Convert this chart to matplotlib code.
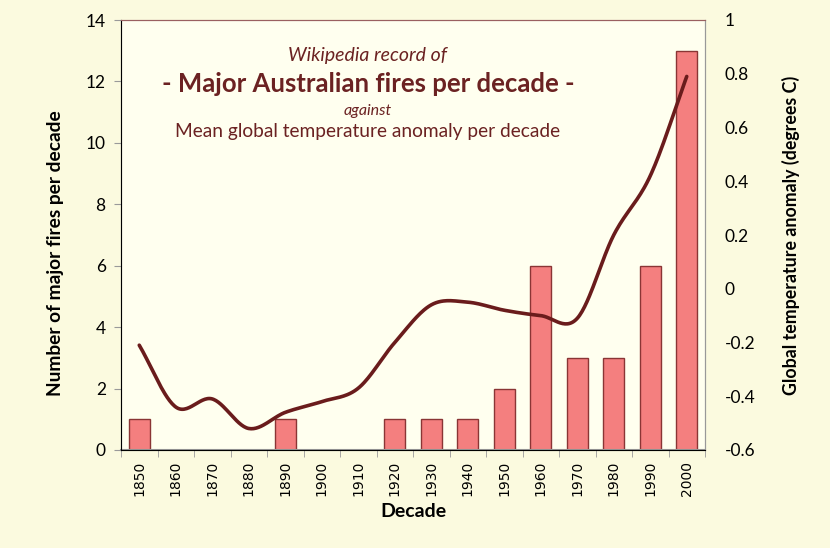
import numpy as np
import matplotlib
matplotlib.use("Agg")
import matplotlib.pyplot as plt

# ── Data ─────────────────────────────────────────────────────────────────────
decades = ["1850", "1860", "1870", "1880", "1890", "1900", "1910", "1920",
           "1930", "1940", "1950", "1960", "1970", "1980", "1990", "2000"]
fires = [1, 0, 0, 0, 1, 0, 0, 1, 1, 1, 2, 6, 3, 3, 6, 13]
temp_anomaly = [-0.21, -0.44, -0.41, -0.52, -0.46, -0.42, -0.37, -0.20,
                -0.06, -0.05, -0.08, -0.10, -0.11, 0.20, 0.42, 0.79]
left_ticks = [0, 2, 4, 6, 8, 10, 12, 14]
right_ticks = [-0.6, -0.4, -0.2, 0, 0.2, 0.4, 0.6, 0.8, 1]
right_labels = ["-0.6", "-0.4", "-0.2", "0", "0.2", "0.4", "0.6", "0.8", "1"]

OUTER_BG = "#FBFADF"
INNER_BG = "#FFFFEF"
BAR_FILL = "#F47F7F"
BAR_EDGE = "#8A3535"
LINE_COL = "#6A1C1C"
TEXT_COL = "#6B2222"

plt.rcParams["font.family"] = ["Lato", "DejaVu Sans"]


def smooth(xs, ys, n=30):
    """Catmull-Rom style curve through the points (like Excel's smoothed line)."""
    xs = np.asarray(xs, float)
    ys = np.asarray(ys, float)
    px = np.concatenate([[2 * xs[0] - xs[1]], xs, [2 * xs[-1] - xs[-2]]])
    py = np.concatenate([[2 * ys[0] - ys[1]], ys, [2 * ys[-1] - ys[-2]]])
    out_x, out_y = [], []
    for i in range(1, len(px) - 2):
        t = np.linspace(0, 1, n, endpoint=False)
        for p, o in ((px, out_x), (py, out_y)):
            p0, p1, p2, p3 = p[i - 1], p[i], p[i + 1], p[i + 2]
            o.extend(0.5 * (2 * p1 + (-p0 + p2) * t
                            + (2 * p0 - 5 * p1 + 4 * p2 - p3) * t ** 2
                            + (-p0 + 3 * p1 - 3 * p2 + p3) * t ** 3))
    out_x.append(xs[-1])
    out_y.append(ys[-1])
    return np.array(out_x), np.array(out_y)


# ── Figure ───────────────────────────────────────────────────────────────────
fig = plt.figure(figsize=(8.3, 5.48), dpi=100)
fig.patch.set_facecolor(OUTER_BG)
ax = fig.add_axes([121 / 830, 1 - 450 / 548, 584 / 830, 430 / 548])
ax.set_facecolor(INNER_BG)

x = np.arange(len(decades))
ax.bar(x, fires, width=0.58, color=BAR_FILL, edgecolor=BAR_EDGE, linewidth=1.0, zorder=2)
ax.set_xlim(-0.5, len(decades) - 0.5)
ax.set_ylim(0, 14)
ax.set_yticks(left_ticks)
ax.set_yticklabels([str(v) for v in left_ticks], fontsize=12.5)
ax.set_xticks(x)
ax.set_xticklabels(decades, rotation=90, fontsize=10, family="DejaVu Sans")
ax.tick_params(axis="x", length=0, pad=8)
ax.set_xticks(np.arange(-0.5, len(decades)), minor=True)
ax.tick_params(axis="x", which="minor", length=5, color="#999999", direction="out")
ax.tick_params(axis="y", length=5, color="#999999", pad=6)

for side in ("left", "bottom", "right"):
    ax.spines[side].set_color("#999999")
ax.spines["top"].set_color("#9A6060")
ax.spines["bottom"].set_linewidth(1.5)

ax.set_ylabel("Number of major fires per decade", fontsize=13.8, fontweight="bold")
ax.yaxis.set_label_coords(-0.097, 0.458)
ax.set_xlabel("Decade", fontsize=14, fontweight="bold", labelpad=5)

# Temperature anomaly on secondary axis
ax2 = ax.twinx()
sx, sy = smooth(x, temp_anomaly)
ax2.plot(sx, sy, color=LINE_COL, linewidth=2.6, solid_capstyle="round", zorder=3)
ax2.set_ylim(-0.6, 1.0)
ax2.set_yticks(right_ticks)
ax2.set_yticklabels(right_labels, fontsize=12.5)
ax2.tick_params(axis="y", length=0, pad=14)
ax2.spines["right"].set_color("#999999")
ax2.spines["top"].set_color("#9A6060")
ax2.set_ylabel("Global temperature anomaly (degrees C)", fontsize=12.8,
               fontweight="bold", labelpad=19)

# ── Title block inside the plot ──────────────────────────────────────────────
cx = 368 / 830
fig.text(cx, 1 - 55 / 548, "Wikipedia record of", ha="center", va="center",
         fontsize=14, style="italic", color=TEXT_COL)
fig.text(cx, 1 - 84 / 548, "- Major Australian fires per decade -", ha="center", va="center",
         fontsize=18.5, fontweight="bold", color=TEXT_COL)
fig.text(cx, 1 - 111 / 548, "against", ha="center", va="center",
         fontsize=11.5, style="italic", color=TEXT_COL)
fig.text(cx, 1 - 132 / 548, "Mean global temperature anomaly per decade", ha="center",
         va="center", fontsize=13.8, color=TEXT_COL)

fig.savefig("out.png", dpi=100, facecolor=fig.get_facecolor())
plt.close(fig)
